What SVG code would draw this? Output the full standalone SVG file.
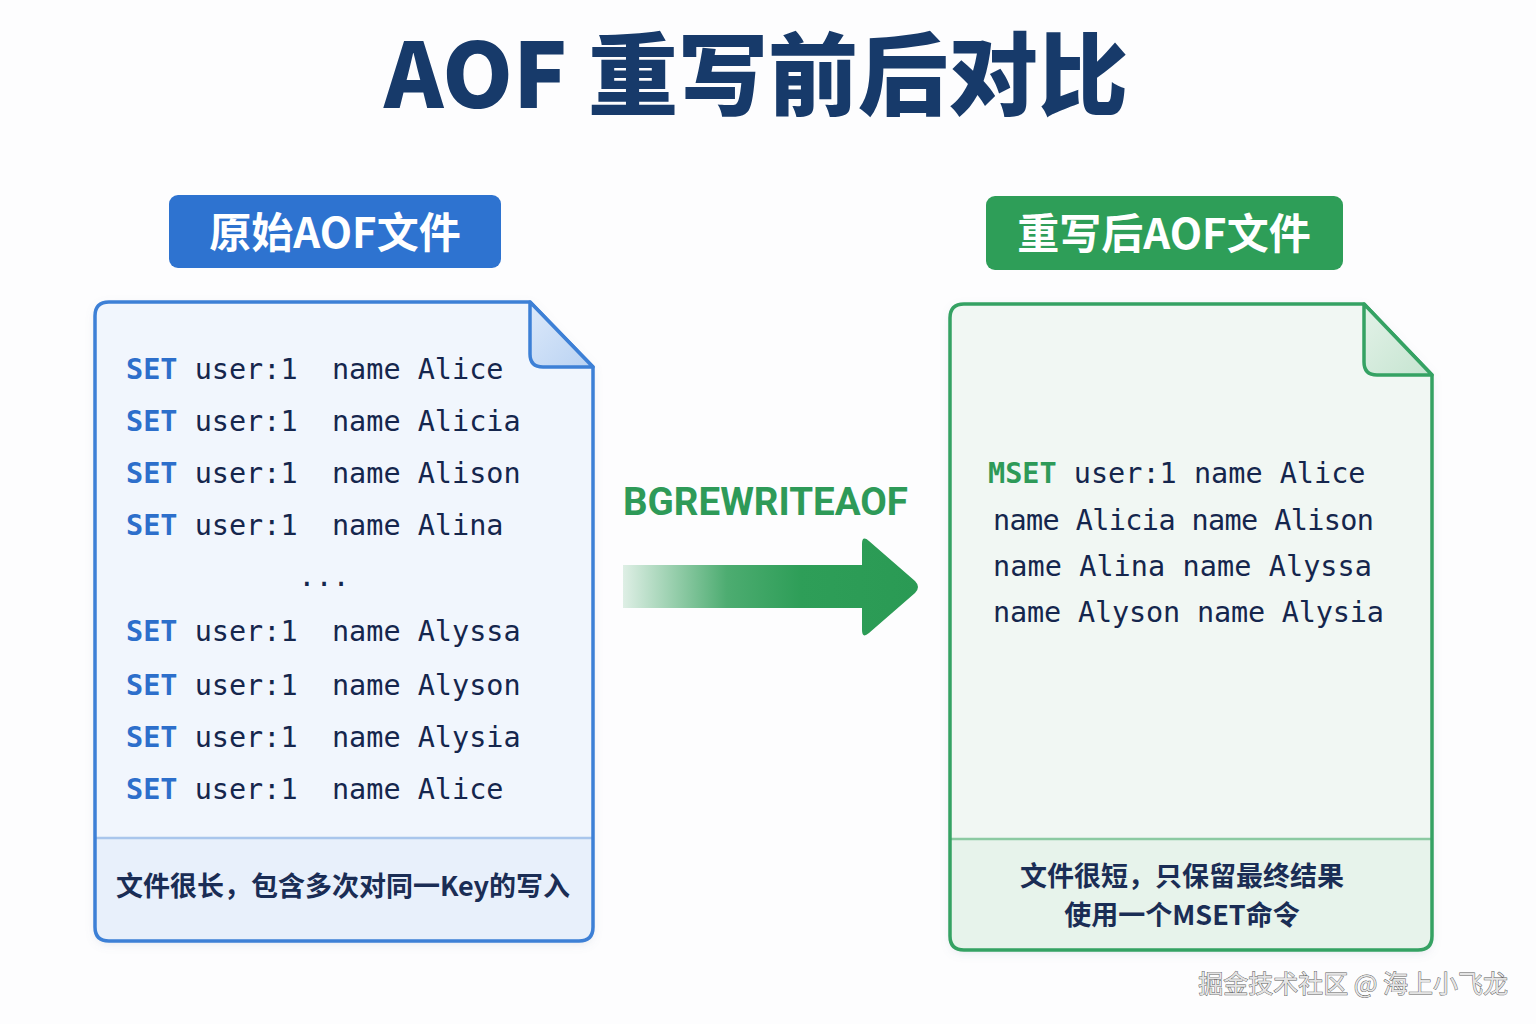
<svg xmlns="http://www.w3.org/2000/svg" width="1536" height="1024" viewBox="0 0 1536 1024">
<defs>
<style>
.title{font-family:"Noto Sans CJK SC","Liberation Sans",sans-serif;font-weight:900;font-size:90px;fill:#173a6a}
.lbl{font-family:"Noto Sans CJK SC","Liberation Sans",sans-serif;font-weight:700;font-size:42px;fill:#fff}
.code{font-family:"DejaVu Sans Mono","Liberation Mono",monospace;font-size:28.5px;fill:#15264d}
.kwb{fill:#2d6fcb;font-weight:700}
.kwg{fill:#2e9a58;font-weight:700}
.note{font-family:"Noto Sans CJK SC","Liberation Sans",sans-serif;font-weight:700;font-size:27px;fill:#1a2d55}
.cmd{font-family:"Roboto","Noto Sans","Liberation Sans",sans-serif;font-weight:700;font-size:38px;fill:#2e9a58}
.wm{font-family:"Noto Sans CJK SC","Liberation Sans",sans-serif;font-size:25px;fill:#e4e4e4;stroke:#5a5a5a;stroke-width:0.9px;paint-order:stroke}
</style>
<linearGradient id="arrowGrad" x1="623" y1="0" x2="920" y2="0" gradientUnits="userSpaceOnUse">
<stop offset="0" stop-color="#2e9e58" stop-opacity="0.15"/>
<stop offset="0.35" stop-color="#2e9e58" stop-opacity="0.85"/>
<stop offset="0.6" stop-color="#2e9e58" stop-opacity="1"/>
<stop offset="1" stop-color="#2a9a54" stop-opacity="1"/>
</linearGradient>
<linearGradient id="foldBlue" x1="0" y1="0" x2="1" y2="1">
<stop offset="0" stop-color="#dce9fa"/>
<stop offset="1" stop-color="#b9d2f2"/>
</linearGradient>
<linearGradient id="foldGreen" x1="0" y1="0" x2="1" y2="1">
<stop offset="0" stop-color="#e3f2e8"/>
<stop offset="1" stop-color="#c5e4d0"/>
</linearGradient>
<filter id="shadow" x="-10%" y="-10%" width="120%" height="120%">
<feDropShadow dx="0" dy="3" stdDeviation="5" flood-color="#7a8aa8" flood-opacity="0.18"/>
</filter>
</defs>
<rect x="0" y="0" width="1536" height="1024" fill="#fdfdfe"/>

<g id="title">
<text class="title" x="756" y="108" text-anchor="middle">AOF 重写前后对比</text>
</g>

<g id="label-original">
<rect x="169" y="195" width="332" height="73" rx="9" fill="#2e73d0"/>
<text class="lbl" x="335" y="248" text-anchor="middle">原始AOF文件</text>
</g>

<g id="label-rewritten">
<rect x="986" y="196" width="357" height="74" rx="9" fill="#2e9e58"/>
<text class="lbl" x="1164" y="249" text-anchor="middle">重写后AOF文件</text>
</g>

<g id="doc-original">
<path d="M109,302 H530 L593,367 V927 Q593,941 579,941 H109 Q95,941 95,927 V316 Q95,302 109,302 Z" fill="#f1f6fd" filter="url(#shadow)"/>
<path d="M95,838 H593 V927 Q593,941 579,941 H109 Q95,941 95,927 Z" fill="#e8f0fb"/>
<line x1="96" y1="838" x2="592" y2="838" stroke="#a9c6ec" stroke-width="2.5"/>
<path d="M109,302 H530 L593,367 V927 Q593,941 579,941 H109 Q95,941 95,927 V316 Q95,302 109,302 Z" fill="none" stroke="#3d80d6" stroke-width="3.5" stroke-linejoin="round"/>
<path d="M530,302 V354 Q530,367 543,367 H593 Z" fill="url(#foldBlue)" stroke="#3d80d6" stroke-width="3.5" stroke-linejoin="round"/>
<text class="code" x="126" y="379" xml:space="preserve"><tspan class="kwb">SET</tspan> user:1  name Alice</text>
<text class="code" x="126" y="431" xml:space="preserve"><tspan class="kwb">SET</tspan> user:1  name Alicia</text>
<text class="code" x="126" y="483" xml:space="preserve"><tspan class="kwb">SET</tspan> user:1  name Alison</text>
<text class="code" x="126" y="535" xml:space="preserve"><tspan class="kwb">SET</tspan> user:1  name Alina</text>
<text class="code" x="324" y="586" text-anchor="middle">...</text>
<text class="code" x="126" y="641" xml:space="preserve"><tspan class="kwb">SET</tspan> user:1  name Alyssa</text>
<text class="code" x="126" y="695" xml:space="preserve"><tspan class="kwb">SET</tspan> user:1  name Alyson</text>
<text class="code" x="126" y="747" xml:space="preserve"><tspan class="kwb">SET</tspan> user:1  name Alysia</text>
<text class="code" x="126" y="799" xml:space="preserve"><tspan class="kwb">SET</tspan> user:1  name Alice</text>
<text class="note" x="343" y="896" text-anchor="middle">文件很长，包含多次对同一Key的写入</text>
</g>

<g id="connectors">
<text class="cmd" x="623" y="515" textLength="285" lengthAdjust="spacingAndGlyphs">BGREWRITEAOF</text>
<path d="M623,565 H862 V544 Q862,535 869,541 L915,581 Q921,587 915,593 L869,633 Q862,639 862,630 V608 H623 Z" fill="url(#arrowGrad)"/>
</g>

<g id="doc-rewritten">
<path d="M964,304 H1364 L1432,375 V936 Q1432,950 1418,950 H964 Q950,950 950,936 V318 Q950,304 964,304 Z" fill="#f1f7f3" filter="url(#shadow)"/>
<path d="M950,839 H1432 V936 Q1432,950 1418,950 H964 Q950,950 950,936 Z" fill="#e7f3eb"/>
<line x1="951" y1="839" x2="1431" y2="839" stroke="#8ccaa2" stroke-width="2.5"/>
<path d="M964,304 H1364 L1432,375 V936 Q1432,950 1418,950 H964 Q950,950 950,936 V318 Q950,304 964,304 Z" fill="none" stroke="#35a263" stroke-width="3.5" stroke-linejoin="round"/>
<path d="M1364,304 V362 Q1364,375 1377,375 H1432 Z" fill="url(#foldGreen)" stroke="#35a263" stroke-width="3.5" stroke-linejoin="round"/>
<text class="code" x="988" y="483" xml:space="preserve"><tspan class="kwg">MSET</tspan> user:1 name Alice</text>
<text class="code" x="993" y="530" textLength="381" lengthAdjust="spacing">name Alicia name Alison</text>
<text class="code" x="993" y="576" textLength="379" lengthAdjust="spacing">name Alina name Alyssa</text>
<text class="code" x="993" y="622" textLength="391" lengthAdjust="spacing">name Alyson name Alysia</text>
<text class="note" x="1182" y="886" text-anchor="middle">文件很短，只保留最终结果</text>
<text class="note" x="1182" y="925" text-anchor="middle">使用一个MSET命令</text>
</g>

<g id="watermark">
<text class="wm" x="1508" y="993" text-anchor="end">掘金技术社区 @ 海上小飞龙</text>
</g>
</svg>
